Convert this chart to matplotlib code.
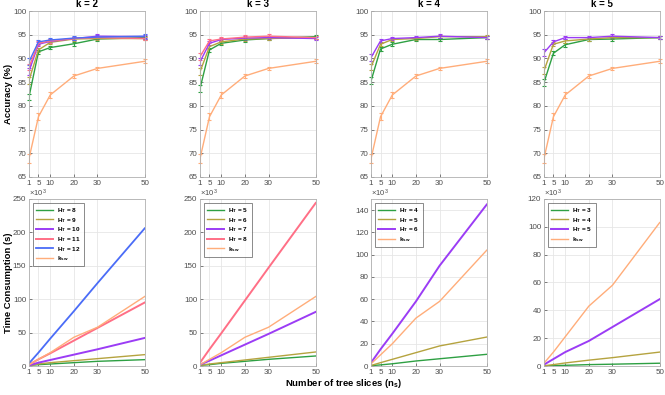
import matplotlib
matplotlib.use("Agg")
import matplotlib.pyplot as plt
import numpy as np

plt.rcParams['font.family'] = ['Liberation Sans', 'DejaVu Sans']
plt.rcParams['mathtext.fontset'] = 'custom'
plt.rcParams['mathtext.rm'] = 'Liberation Sans'
plt.rcParams['mathtext.it'] = 'Liberation Sans'
plt.rcParams['mathtext.bf'] = 'Liberation Sans:bold'

ns = [1, 5, 10, 20, 30, 50]
xticks = [1, 5, 10, 20, 30, 50]
ks = [2, 3, 4, 5]

# Series colours (legend order)
col_g = '#2ea043'
col_o = '#b5a33f'
col_p = '#9b3cf5'
col_r = '#ff6f86'
col_b = '#4a6cf7'
col_k = '#ffad7a'

# Legend labels per panel
labels = {
    2: [r'H$_\mathbf{T}$ = 8', r'H$_\mathbf{T}$ = 9', r'H$_\mathbf{T}$ = 10', r'H$_\mathbf{T}$ = 11', r'H$_\mathbf{T}$ = 12', r'k$_\mathbf{sw}$'],
    3: [r'H$_\mathbf{T}$ = 5', r'H$_\mathbf{T}$ = 6', r'H$_\mathbf{T}$ = 7', r'H$_\mathbf{T}$ = 8', r'k$_\mathbf{sw}$'],
    4: [r'H$_\mathbf{T}$ = 4', r'H$_\mathbf{T}$ = 5', r'H$_\mathbf{T}$ = 6', r'k$_\mathbf{sw}$'],
    5: [r'H$_\mathbf{T}$ = 3', r'H$_\mathbf{T}$ = 4', r'H$_\mathbf{T}$ = 5', r'k$_\mathbf{sw}$'],
}
colors = {
    2: [col_g, col_o, col_p, col_r, col_b, col_k],
    3: [col_g, col_o, col_p, col_r, col_k],
    4: [col_g, col_o, col_p, col_k],
    5: [col_g, col_o, col_p, col_k],
}

# Accuracy (%)
acc_ksw = [68.9, 77.7, 82.3, 86.3, 87.9, 89.4]
acc = {
    2: [[81.9, 91.4, 92.3, 93.1, 94.1, 94.4],
        [85.4, 91.8, 93.4, 94.1, 94.2, 94.2],
        [87.3, 93.0, 93.6, 94.2, 94.7, 94.6],
        [88.2, 93.2, 93.7, 94.2, 94.4, 94.2],
        [89.3, 93.5, 93.9, 94.3, 94.5, 94.7],
        acc_ksw],
    3: [[83.7, 91.8, 93.2, 93.9, 94.2, 94.6],
        [87.2, 92.5, 93.5, 94.1, 94.2, 94.4],
        [89.3, 93.2, 94.0, 94.3, 94.4, 94.2],
        [90.4, 93.7, 94.1, 94.5, 94.7, 94.4],
        acc_ksw],
    4: [[85.3, 92.0, 93.0, 94.0, 94.0, 94.4],
        [88.2, 93.0, 94.0, 94.2, 94.6, 94.6],
        [90.2, 93.7, 94.2, 94.4, 94.7, 94.4],
        acc_ksw],
    5: [[84.9, 91.1, 92.9, 94.0, 94.1, 94.4],
        [87.4, 93.0, 93.7, 94.1, 94.4, 94.4],
        [91.2, 93.5, 94.4, 94.4, 94.7, 94.4],
        acc_ksw],
}
err_ht = [0.7, 0.4, 0.4, 0.4, 0.4, 0.4]
err_ksw = [0.9, 0.7, 0.6, 0.5, 0.4, 0.4]

# Time consumption (x10^3 s)
time_ksw = [2, 10, 20, 43, 58, 104]
tcons = {
    2: [[1, 2, 3, 5, 7, 9.5],
        [0.5, 3, 5, 8, 11, 17],
        [1, 5, 9, 17, 25, 42],
        [2, 10, 19, 38, 57, 95],
        [4, 20, 41, 82, 124, 206],
        time_ksw],
    3: [[1, 2, 4, 7, 10, 15],
        [1, 3, 5, 9, 13, 21],
        [2, 8, 16, 32, 48, 81],
        [5, 25, 49, 98, 147, 244],
        time_ksw],
    4: [[0.3, 1, 2, 4.5, 6.5, 10.5],
        [0.5, 3, 6, 12, 18, 26],
        [3, 15, 29, 58, 90, 145],
        time_ksw],
    5: [[0.1, 0.3, 0.5, 1, 1.3, 2],
        [0.2, 1, 2.2, 4.2, 6, 10],
        [1, 5, 10, 18, 28, 48],
        [2, 10, 21, 43, 58, 103]],
}
time_ylim = {2: 250, 3: 250, 4: 150, 5: 120}

fig = plt.figure(figsize=(6.65, 3.95), dpi=100)
lefts = [0.0436, 0.3008, 0.558, 0.818]
w = 0.174
tick_col = '#4d4d4d'
thick = {col_p: 1.4, col_r: 1.4, col_b: 1.3}

def style(ax):
    ax.set_xlim(1, 50)
    ax.set_xticks(xticks)
    ax.grid(True, color='#e6e6e6', linewidth=0.6)
    ax.set_axisbelow(True)
    ax.tick_params(labelsize=5.8, colors=tick_col, length=2, width=0.5,
                   direction='in', pad=2)
    for s in ax.spines.values():
        s.set_color('#b0b0b0')
        s.set_linewidth(0.6)

for i, k in enumerate(ks):
    ax = fig.add_axes([lefts[i], 0.552, w, 0.420])
    style(ax)
    for j, (vals, c) in enumerate(zip(acc[k], colors[k])):
        e = err_ksw if c == col_k else err_ht
        eb = ax.errorbar(ns, vals, yerr=e, color=c, lw=1.0, capsize=1.6,
                         elinewidth=0.8, capthick=0.8)
        for art in eb.lines[1] + eb.lines[2]:
            art.set_clip_on(False)
    ax.set_ylim(65, 100)
    ax.set_yticks([65, 70, 75, 80, 85, 90, 95, 100])
    ax.set_title(f'k = {k}', fontsize=7, fontweight='bold', pad=3)
    if i == 0:
        ax.set_ylabel('Accuracy (%)', fontsize=6.8, fontweight='bold')
        ax.yaxis.set_label_coords(-0.14, 0.5)

    ax2 = fig.add_axes([lefts[i], 0.0734, w, 0.423])
    style(ax2)
    for vals, c, lab in zip(tcons[k], colors[k], labels[k]):
        ax2.plot(ns, vals, color=c, lw=thick.get(c, 1.0), label=lab)
    ax2.set_ylim(0, time_ylim[k])
    ax2.text(0.0, 1.0, r'$\times10^3$', transform=ax2.transAxes, fontsize=5.5,
             color=tick_col, ha='left', va='bottom')
    leg = ax2.legend(loc='upper left', prop={'weight': 'bold', 'size': 4.6},
                     frameon=True, fancybox=False, handlelength=2.7,
                     borderpad=0.5, labelspacing=0.12, handletextpad=0.6,
                     borderaxespad=0.6)
    leg.get_frame().set_edgecolor('#555555')
    leg.get_frame().set_linewidth(0.6)
    if i == 0:
        ax2.set_ylabel('Time Consumption (s)', fontsize=6.8, fontweight='bold')
        ax2.yaxis.set_label_coords(-0.14, 0.5)

fig.text(0.517, 0.028, r'Number of tree slices (n$_\mathbf{s}$)', ha='center', va='center',
         fontsize=6.8, fontweight='bold')

fig.savefig('out.png', dpi=100)
